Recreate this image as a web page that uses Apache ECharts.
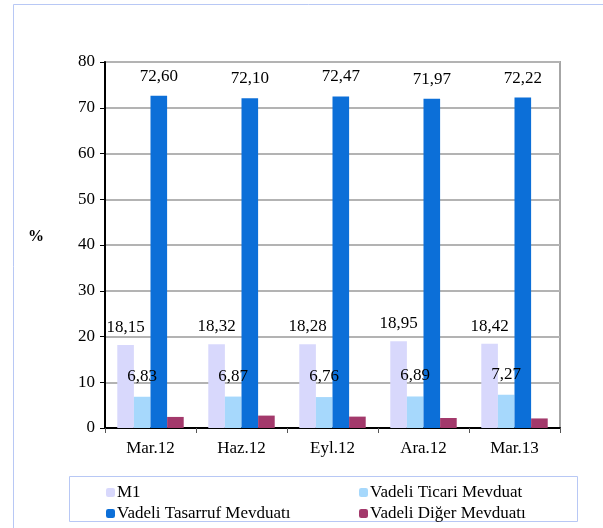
<!DOCTYPE html>
<html><head><meta charset="utf-8">
<script src="https://cdn.jsdelivr.net/npm/echarts@6/dist/echarts.min.js"></script>
<style>html,body{margin:0;padding:0;background:#fff}#c{width:603px;height:528px}</style>
</head><body><div id="c"></div>
<script>
const categories = ['Mar.12','Haz.12','Eyl.12','Ara.12','Mar.13'];
const m1 = [18.15, 18.32, 18.28, 18.95, 18.42];
const vadeliTicari = [6.83, 6.87, 6.76, 6.89, 7.27];
const vadeliTasarruf = [72.60, 72.10, 72.47, 71.97, 72.22];
const vadeliDiger = [2.42, 2.71, 2.49, 2.19, 2.09];
const yTicks = [0, 10, 20, 30, 40, 50, 60, 70, 80];

const FONT = '"Liberation Serif", "DejaVu Serif", serif';
const FS = 17;
const fmt = p => p.value.toFixed(2).replace('.', ',');
function lab(show, dist){
  return {show: show, position: 'top', distance: dist, color: '#000', fontFamily: FONT, fontSize: FS, formatter: fmt};
}
const chart = echarts.init(document.getElementById('c'), null, {renderer: 'canvas'});
chart.setOption({
  animation: false,
  backgroundColor: '#fff',
  textStyle: {fontFamily: FONT},
  grid: {left: 105, right: 43, top: 62, bottom: 100, show: true, borderColor: '#a6a6a6', borderWidth: 2},
  xAxis: {
    type: 'category', data: categories,
    axisLine: {lineStyle: {color: '#000', width: 2}},
    axisTick: {show: true, length: 5, lineStyle: {color: '#555'}},
    axisLabel: {color: '#000', fontFamily: FONT, fontSize: FS, margin: 12}
  },
  yAxis: {
    type: 'value', min: yTicks[0], max: yTicks[yTicks.length-1], interval: 10,
    axisLine: {show: true, lineStyle: {color: '#000', width: 2}},
    axisTick: {show: true, length: 5, lineStyle: {color: '#000'}},
    axisLabel: {color: '#000', fontFamily: FONT, fontSize: FS, margin: 10},
    splitLine: {lineStyle: {color: '#b3b3b3', width: 2}}
  },
  legend: [
    {left: 101, top: 479, orient: 'vertical', itemWidth: 9, itemHeight: 9, itemGap: 4,
     data: ['M1', 'Vadeli Tasarruf Mevduatı'],
     textStyle: {color: '#000', fontFamily: FONT, fontSize: FS, padding: [0,0,0,-3]}},
    {left: 354, top: 479, orient: 'vertical', itemWidth: 9, itemHeight: 9, itemGap: 4,
     data: ['Vadeli Ticari Mevduat', 'Vadeli Diğer Mevduatı'],
     textStyle: {color: '#000', fontFamily: FONT, fontSize: FS, padding: [0,0,0,-3]}}
  ],
  graphic: [
    {type: 'rect', shape: {x: 13.5, y: 4.5, width: 620, height: 560}, style: {fill: 'none', stroke: '#b8c8f5', lineWidth: 1}, silent: true},
    {type: 'rect', shape: {x: 69.5, y: 476.5, width: 508, height: 45}, style: {fill: 'none', stroke: '#b8c8f5', lineWidth: 1}, silent: true},
    {type: 'text', x: 36, y: 237, style: {text: '%', fill: '#000', font: 'bold 16px "Liberation Serif", serif', align: 'center', verticalAlign: 'middle'}}
  ],
  series: [
    {name: 'M1', type: 'bar', data: m1, barGap: '0%', barCategoryGap: '27%',
     itemStyle: {color: '#d8d8fc'}, label: lab(true, 9)},
    {name: 'Vadeli Ticari Mevduat', type: 'bar', data: vadeliTicari,
     itemStyle: {color: '#a6d8fc'}, label: lab(true, 12)},
    {name: 'Vadeli Tasarruf Mevduatı', type: 'bar', data: vadeliTasarruf,
     itemStyle: {color: '#0c6fd8'}, label: lab(true, 11)},
    {name: 'Vadeli Diğer Mevduatı', type: 'bar', data: vadeliDiger,
     itemStyle: {color: '#a3396b'}, label: lab(false, 5)}
  ]
});
</script></body></html>
